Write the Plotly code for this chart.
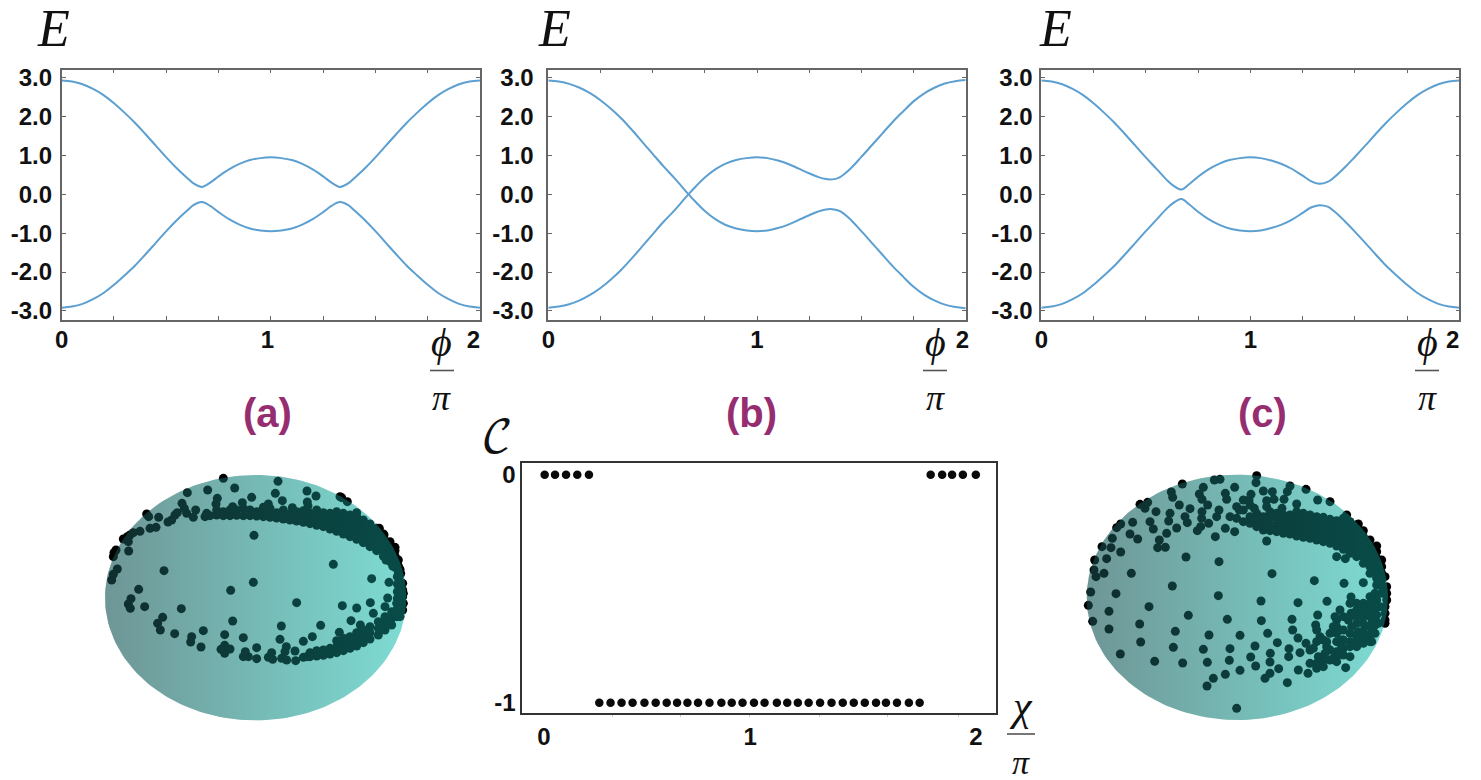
import numpy as np
import plotly.graph_objects as go

W, H = 1481, 780

# ---------- band structure panels ----------
PHI = [0, .05, .1, .15, .2, .25, .3, .35, .4, .45, .5, .55, .6, .63, .67, .71, .75, .8, .85, .9, .95, 1,
       1.05, 1.1, 1.15, 1.2, 1.25, 1.29, 1.33, 1.37, 1.4, 1.45, 1.5, 1.55, 1.6, 1.65, 1.7, 1.75, 1.8, 1.85, 1.9, 1.95, 2]

A_UP = [2.93, 2.90, 2.83, 2.71, 2.55, 2.34, 2.10, 1.84, 1.55, 1.25, .95, .67, .42, .28, .19, .30, .46, .64, .78, .88, .93, .95,
        .93, .88, .78, .64, .46, .30, .19, .28, .42, .67, .95, 1.25, 1.55, 1.84, 2.10, 2.34, 2.55, 2.71, 2.83, 2.90, 2.93]
A_LO = [-2.92, -2.89, -2.82, -2.70, -2.54, -2.33, -2.09, -1.84, -1.55, -1.25, -.95, -.67, -.42, -.28, -.20, -.30, -.46, -.64, -.78, -.88, -.93, -.95,
        -.93, -.88, -.78, -.64, -.46, -.30, -.20, -.28, -.42, -.67, -.95, -1.25, -1.55, -1.84, -2.09, -2.33, -2.54, -2.70, -2.82, -2.89, -2.92]
B_FALL = [2.93, 2.90, 2.84, 2.74, 2.60, 2.42, 2.20, 1.95, 1.66, 1.35, 1.04, .73, .44, .26, .01, -.22, -.43, -.64, -.79, -.88, -.93, -.95,
          -.93, -.87, -.78, -.66, -.54, -.45, -.39, -.39, -.44, -.66, -.95, -1.25, -1.55, -1.85, -2.12, -2.38, -2.58, -2.73, -2.84, -2.90, -2.93]
B_RISE = [-2.92, -2.89, -2.83, -2.73, -2.59, -2.41, -2.19, -1.94, -1.65, -1.34, -1.03, -.72, -.44, -.26, -.01, .22, .43, .64, .79, .88, .93, .95,
          .93, .87, .78, .66, .54, .45, .39, .39, .45, .67, .96, 1.26, 1.56, 1.86, 2.13, 2.39, 2.59, 2.74, 2.85, 2.91, 2.94]
C_UP = [2.93, 2.90, 2.83, 2.71, 2.55, 2.34, 2.10, 1.84, 1.55, 1.25, .95, .66, .37, .23, .12, .27, .45, .64, .78, .88, .93, .95,
        .93, .87, .78, .65, .48, .34, .27, .32, .43, .68, .96, 1.25, 1.55, 1.84, 2.10, 2.34, 2.55, 2.71, 2.83, 2.90, 2.93]
C_LO = [-2.92, -2.89, -2.82, -2.70, -2.54, -2.33, -2.09, -1.84, -1.55, -1.25, -.95, -.66, -.37, -.23, -.12, -.27, -.45, -.64, -.78, -.88, -.93, -.95,
        -.93, -.87, -.78, -.65, -.48, -.34, -.28, -.32, -.43, -.68, -.96, -1.25, -1.55, -1.84, -2.09, -2.33, -2.54, -2.70, -2.82, -2.89, -2.92]

E_TICKS = [3, 2, 1, 0, -1, -2, -3]
E_TICK_TEXT = ["3.0", "2.0", "1.0", "0.0", "-1.0", "-2.0", "-3.0"]
PHI_TICKS = [0, .25, .5, .75, 1, 1.25, 1.5, 1.75, 2]
NB = "\u00a0"
PHI_TEXT_A = ["0", "", "", "", "1" + NB, "", "", "", "2" + NB + NB]
PHI_TEXT_B = ["0", "", "", "", "1", "", "", "", "2" + NB]
PHI_TEXT_C = ["0", "", "", "", "1", "", "", "", "2" + NB + NB]

# ---------- Chern number panel ----------
CHI_TOP_L = [.003, .051, .102, .154, .208]
CHI_TOP_R = [1.790, 1.843, 1.889, 1.939, 1.999]
CHI_BOT = [.256, .308, .359, .410, .465, .517, .568, .616, .664, .713, .766, .821, .869, .919, .972,
           1.021, 1.078, 1.126, 1.175, 1.225, 1.278, 1.331, 1.383, 1.434, 1.485, 1.537, 1.583, 1.634, 1.689, 1.739]
CHERN_TOP = 0
CHERN_BOT = -1
CHI_TICKS = [0, .954, 2]
CHI_TICK_TEXT = ["0", "1", "2"]
CHERN_TICKS = [0, -1]
CHERN_TICK_TEXT = ["0", "-1"]
CHI_MINOR = [.316, .633, .953, 1.275, 1.591, 1.917]

# ---------- Bloch spheres (positions on the sphere picture) ----------
SPHERE_A_POINTS = [(400,55),(564,64),(292,98),(353,90),(434,84),(556,100),(651,93),(678,108),(750,110),(755,113),(772,125),
 (485,112),(382,115),(276,130),(378,132),(283,145),(317,150),(457,128),(428,140),(535,132),(577,122),(652,126),(607,143),(654,138),
 (170,162),(176,170),(206,172),(492,226),(730,313),(222,332),(845,356),(897,367),(490,367),(422,391),(146,388),(620,428),(757,437),
 (800,444),(841,428),(893,414),(123,416),(115,432),(121,445),(164,440),(274,446),(885,440),(850,460),(218,472),(428,483),(203,490),
 (211,510),(574,498),(692,496),(783,482),(811,495),(340,512),(254,521),(404,524),(305,530),(302,546),(460,533),(570,538),(748,517),
 (640,544),(667,530),(333,561),(393,568),(404,556),(420,567),(404,580),(500,563),(466,575),(460,590),(475,590),(500,596),(545,578),
 (535,592),(548,598),(589,560),(615,573),(585,575),(575,595),(590,600),(617,602),(650,590),(100,237),(112,230),(120,225),(130,218),
 (150,214),(115,245),(116,273),(72,278),(78,270),(70,290),(82,327),(70,343),(65,360),(180,205),(198,202),(234,186),(245,180),(255,165),
 (262,158),(290,160),(310,172),(345,170),(350,160),(868,205),(882,225),(905,262),(920,300),(932,340),(940,400),(940,430)]
SPHERE_A_UPPER = {360:[167],380:[165,150],400:[167,155],420:[167,150],440:[166,150],460:[167,145],480:[167,150],500:[168,155],
 520:[170,155,142],540:[172,155,145],560:[174,158],580:[177,160,150],600:[180,162],620:[183,165,155],640:[187,170,152],660:[191,175,160],
 680:[196,180,165,150],700:[200,185,170,158],720:[207,190,175,160],740:[214,197,180,165,155],760:[222,205,188,172,160],
 780:[230,213,196,180,165],800:[238,220,203,186,170,158],820:[248,230,212,195,180],840:[260,242,224,208,192],860:[272,254,236,220,205],
 880:[288,270,252,235,222],900:[305,287,270,255,245],915:[322,305,288,272,262],925:[335,318,300],930:[345,328,365,385,405,430,450,470],
 938:[370,390,410,430,450],888:[300,280,262],908:[318,298,278],922:[350,372,395,415]}
SPHERE_A_LOWER = {920:[470,450,430],905:[495,475,455],885:[510,490,470],865:[525,505,485],840:[537,518,500],
 820:[548,528,510],800:[558,538,518],780:[565,547,530],760:[572,552,535],740:[578,560,542],720:[582,565],700:[586,570],
 680:[588,572],660:[590,578],640:[592]}

SPHERE_C_POINTS = [(560,47),(558,68),(433,60),(450,58),(337,72),(400,82),(494,82),(660,78),(708,88),(304,96),(388,102),(466,100),(543,103),
 (580,93),(607,95),(652,95),(308,112),(396,118),(470,118),(537,120),(590,122),(612,118),(642,118),(743,120),(780,125),(210,133),(233,127),
 (225,145),(328,135),(413,135),(680,132),(447,150),(360,146),(300,160),(258,155),(396,155),(508,150),(553,145),(590,140),(636,145),(830,165),
 (865,192),(188,187),(240,185),(152,192),(140,203),(296,183),(345,170),(352,188),(395,175),(440,170),(480,170),(250,207),(320,204),(290,220),
 (180,222),(127,235),(203,237),(382,212),(392,200),(416,190),(466,205),(494,215),(268,240),(436,230),(96,260),(123,263),(152,276),(263,263),
 (286,262),(590,243),(74,300),(110,296),(348,291),(447,305),(800,290),(826,296),(72,330),(78,350),(102,340),(184,340),(606,341),(733,362),
 (307,378),(822,370),(880,368),(62,396),(138,401),(445,407),(55,436),(237,440),(573,423),(684,428),(771,424),(117,454),(355,466),(472,478),
 (574,482),(666,478),(743,465),(68,484),(209,492),(117,507),(316,514),(417,525),(510,526),(593,520),(668,510),(737,495),(212,546),(310,562),
 (400,568),(480,566),(555,558),(622,548),(684,534),(708,550),(151,582),(254,604),(338,609),(412,607),(478,601),(542,591),(601,580),(657,566),
 (510,631),(557,618),(600,606),(656,590),(690,578),(626,626),(466,643),(600,640),(585,655),(430,655),(411,678),(652,668),(714,640),(685,630),
 (500,745),(827,623),(843,411),(860,430),(880,445),(900,430),(920,420),(930,440),(920,465),(900,470),(880,470),(860,470),(843,460),(835,480),
 (845,500),(865,515),(885,500),(905,490),(925,490),(905,520),(905,545),(880,535),(860,545),(840,545),(815,560),(800,480),(790,500),(800,520),
 (815,540),(820,565),(800,575),(790,595),(770,560),(765,580),(755,610),(745,590),(730,565),(740,510),(750,530),(770,545),(810,450),(795,470)]
SPHERE_C_UPPER = {500:[175,140],520:[185,150,120],540:[190,170,135],560:[200,180,160],580:[210,190,170],600:[212,195,175,155],620:[215,195,175,160],
 640:[220,200,180,165],660:[222,205,185,165],680:[228,210,190,172,155],700:[232,215,195,175,160],720:[235,218,200,180,165],740:[240,222,205,185,170],
 760:[245,225,208,190,172],780:[250,232,213,195,178],800:[258,240,220,200,182],820:[268,250,230,210,190,175],840:[280,260,240,220,200,185],
 860:[290,272,252,232,212,195],880:[310,290,270,250,230,212],900:[340,320,300,280,260,240],920:[375,355,335,315,295,275,258],
 935:[400,380,360,340,320,300],950:[420,400,380],945:[350,440,460,480,490]}
SPHERE_C_LOWER = {915:[400,420,445,470,495,520],900:[410,450,500,525,545],880:[430,460,490,515,550],860:[450,490,530,560],
 840:[430,470,520,560,590],820:[470,510,540,585],800:[500,545,590,605],780:[520,570,600],760:[540,600,620],740:[545,610,625],720:[570,610]}

ELLIPSE_A = (497, 413, 452, 368)
ELLIPSE_C = (502, 412, 452, 368)
SPHERE_BASE = ["rgb(164,181,181)", "rgb(202,250,241)"]
SPHERE_VEIL = ["rgba(36,107,107,0.42)", "rgba(19,179,171,0.42)"]

# ---------- styles ----------
LINE_COL = "#5c9fd1"
BOX_COL = "#666666"
PURPLE = "#962d70"
SANS = "Liberation Sans"
SERIF = "Liberation Serif"

def dx(p): return p / W
def dy(p): return 1 - p / H

fig = go.Figure()
layout = dict(width=W, height=H, margin=dict(l=0, r=0, t=0, b=0), paper_bgcolor="white", plot_bgcolor="white",
              showlegend=False, hovermode=False)

PANELS = [(61.7, 480, "", [A_UP, A_LO], PHI_TEXT_A, 3),
          (548.3, 965.7, "2", [B_FALL, B_RISE], PHI_TEXT_B, 8),
          (1041.3, 1459.3, "3", [C_UP, C_LO], PHI_TEXT_C, 2)]
tickfont = dict(family=SANS, size=24, color="#111111", weight="bold")
for left, right, sfx, curves, xtext, standoff in PANELS:
    for c in curves:
        fig.add_trace(go.Scatter(x=PHI, y=c, mode="lines", line=dict(color=LINE_COL, width=2, shape="spline", smoothing=1.0),
                                 xaxis="x" + sfx, yaxis="y" + sfx))
    layout["xaxis" + sfx] = dict(domain=[dx(left), dx(right)], range=[0, 2], anchor="y" + sfx, showgrid=False, zeroline=False,
                                 automargin=False, showline=True, linecolor=BOX_COL, linewidth=1.6, mirror="ticks",
                                 tickmode="array", tickvals=PHI_TICKS, ticktext=xtext, ticks="inside", ticklen=4, tickwidth=1.2,
                                 tickcolor=BOX_COL, tickfont=tickfont, ticklabelstandoff=-3)
    layout["yaxis" + sfx] = dict(domain=[dy(320), dy(69.5)], range=[-3.235, 3.21], anchor="x" + sfx, showgrid=False, zeroline=False,
                                 automargin=False, showline=True, linecolor=BOX_COL, linewidth=1.6, mirror="ticks",
                                 tickmode="array", tickvals=E_TICKS, ticktext=E_TICK_TEXT, ticks="inside", ticklen=4, tickwidth=1.2,
                                 tickcolor=BOX_COL, tickfont=tickfont, ticklabelstandoff=standoff)

# Chern panel
for xs, yv in ((CHI_TOP_L, CHERN_TOP), (CHI_TOP_R, CHERN_TOP), (CHI_BOT, CHERN_BOT)):
    fig.add_trace(go.Scatter(x=xs, y=[yv] * len(xs), mode="markers", marker=dict(color="#0a0a0a", size=8.5), xaxis="x4", yaxis="y4"))
layout["xaxis4"] = dict(domain=[dx(522.3), dx(995.7)], range=[-.1005, 2.091], anchor="y4", showgrid=False, zeroline=False,
                        automargin=False, showline=True, linecolor="#333333", linewidth=1.6, mirror=True,
                        tickmode="array", tickvals=CHI_TICKS, ticktext=CHI_TICK_TEXT, ticks="",
                        tickfont=tickfont, ticklabelstandoff=2,
                        minor=dict(tickmode="array", tickvals=CHI_MINOR, ticks="outside", ticklen=2, tickwidth=1, tickcolor="#cccccc"))
layout["yaxis4"] = dict(domain=[dy(712.7), dy(462.7)], range=[-1.044, .0526], anchor="x4", showgrid=False, zeroline=False,
                        automargin=False, showline=True, linecolor="#333333", linewidth=1.6, mirror=True,
                        tickmode="array", tickvals=CHERN_TICKS, ticktext=CHERN_TICK_TEXT, ticks="",
                        tickfont=tickfont, ticklabelstandoff=0)

# Spheres
def sphere(points, bands, ell, sfx, left, right):
    xs = [p[0] for p in points]
    ys = [p[1] for p in points]
    for band in bands:
        for bx, col in band.items():
            for by in col:
                xs.append(bx)
                ys.append(by)
    t = np.linspace(0, 2 * np.pi, 181)
    ex = ell[0] + ell[2] * np.cos(t)
    ey = ell[1] + ell[3] * np.sin(t)
    for cols in (SPHERE_BASE, None, SPHERE_VEIL):
        if cols is None:
            fig.add_trace(go.Scatter(x=xs, y=ys, mode="markers", marker=dict(color="black", size=9),
                                     xaxis="x" + sfx, yaxis="y" + sfx))
        else:
            fig.add_trace(go.Scatter(x=ex, y=ey, mode="lines", line=dict(width=0), fill="toself",
                                     fillgradient=dict(type="horizontal", colorscale=[[0, cols[0]], [1, cols[1]]]),
                                     xaxis="x" + sfx, yaxis="y" + sfx))
    layout["xaxis" + sfx] = dict(domain=[dx(left), dx(right)], range=[0, 990], visible=False, anchor="y" + sfx, automargin=False)
    layout["yaxis" + sfx] = dict(domain=[dy(730), dy(460)], range=[810, 0], visible=False, anchor="x" + sfx, automargin=False)

sphere(SPHERE_A_POINTS, [SPHERE_A_UPPER, SPHERE_A_LOWER], ELLIPSE_A, "5", 90, 420)
sphere(SPHERE_C_POINTS, [SPHERE_C_UPPER, SPHERE_C_LOWER], ELLIPSE_C, "6", 1070, 1400)

# Text labels
def note(px, py, text, size, family=SERIF, color="#111111", **kw):
    fig.add_annotation(x=dx(px), y=dy(py), xref="paper", yref="paper", text=text, showarrow=False,
                       xanchor="center", yanchor="middle", font=dict(family=family, size=size, color=color, **kw))

for px, py in ((53, 29), (554, 29), (1055, 29)):
    note(px, py, "<i>E</i>", 52)
for cx in (442, 935, 1427):
    note(cx, 342, "<i>ϕ</i>", 40)
    note(cx, 398, "<i>π</i>", 36)
    fig.add_shape(type="line", xref="paper", yref="paper", x0=dx(cx - 12), x1=dx(cx + 12), y0=dy(370.5), y1=dy(370.5),
                  line=dict(color="#555555", width=1.6))
for px, lab in ((267, "(a)"), (751.7, "(b)"), (1262.7, "(c)")):
    note(px, 413, lab, 40, family=SANS, color=PURPLE, weight="bold")
note(497, 440, "\U0001D49E", 44, family="DejaVu Math TeX Gyre, Liberation Serif")
note(1021, 706, "<i>χ</i>", 42)
note(1021, 762, "<i>π</i>", 34)
fig.add_shape(type="line", xref="paper", yref="paper", x0=dx(1007), x1=dx(1035), y0=dy(734), y1=dy(734),
              line=dict(color="#555555", width=1.6))

fig.update_layout(**layout)
fig.write_html("out.html", config=dict(displayModeBar=False),
               post_script="document.body.style.margin='0';document.documentElement.style.overflow='hidden';")
